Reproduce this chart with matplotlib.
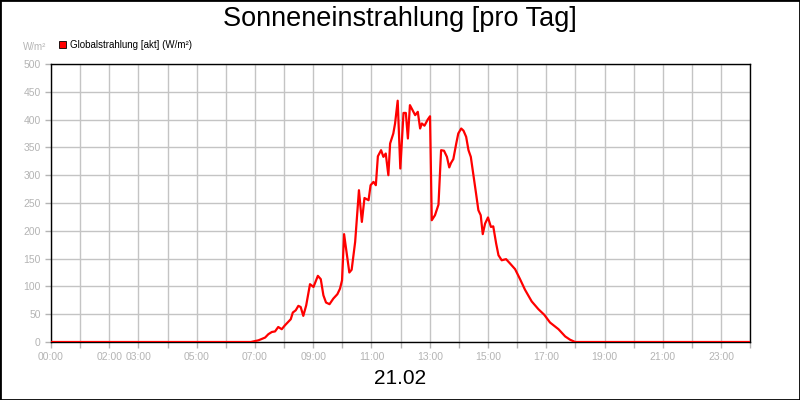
import matplotlib
matplotlib.use("Agg")
import matplotlib.pyplot as plt
from matplotlib.patches import Rectangle

plt.rcParams['font.family'] = ['Liberation Sans', 'DejaVu Sans']

# Tageszeit in Stunden und Globalstrahlung in W/m²
hours = [0.0, 6.86, 7.12, 7.35, 7.46, 7.58, 7.69, 7.80, 7.92, 8.03, 8.23, 8.30,
         8.40, 8.49, 8.57, 8.66, 8.76, 8.89, 9.01, 9.16, 9.26, 9.35, 9.44, 9.56,
         9.69, 9.83, 9.92, 9.99, 10.06, 10.24, 10.32, 10.44, 10.57, 10.67, 10.76,
         10.90, 10.97, 11.07, 11.15, 11.22, 11.33, 11.41, 11.49, 11.58, 11.64,
         11.75, 11.81, 11.90, 11.99, 12.10, 12.18, 12.25, 12.32, 12.41, 12.50,
         12.59, 12.67, 12.73, 12.82, 12.93, 13.01, 13.07, 13.18, 13.30, 13.39,
         13.49, 13.59, 13.67, 13.73, 13.81, 13.91, 13.98, 14.08, 14.16, 14.25,
         14.33, 14.41, 14.50, 14.59, 14.67, 14.75, 14.82, 14.90, 15.00, 15.10,
         15.18, 15.28, 15.36, 15.47, 15.62, 15.76, 15.93, 16.10, 16.27, 16.50,
         16.73, 16.93, 17.13, 17.42, 17.65, 17.82, 17.99, 24.0]
radiation = [0, 0, 3, 8, 14, 18, 19, 27, 23, 30, 41, 53,
             57, 65, 63, 47, 66, 104, 99, 119, 113, 84, 71, 68,
             78, 86, 96, 111, 194, 125, 130, 180, 273, 216, 259,
             255, 282, 288, 282, 334, 345, 333, 339, 300, 357,
             375, 393, 434, 312, 412, 412, 366, 426, 417, 408,
             414, 384, 393, 389, 400, 406, 219, 228, 247, 345,
             344, 333, 314, 322, 329, 357, 375, 384, 380, 369,
             345, 333, 300, 267, 237, 228, 194, 213, 224, 207,
             208, 177, 156, 147, 149, 141, 131, 113, 94, 73,
             59, 49, 35, 23, 10, 4, 0, 0]

x_labels = [0, 2, 3, 5, 7, 9, 11, 13, 15, 17, 19, 21, 23]
y_ticks = list(range(0, 501, 50))

grey = '#b4b4b4'

fig = plt.figure(figsize=(8, 4), dpi=100)
ax = fig.add_axes([0.06375, 0.145, 0.874, 0.695])

ax.plot(hours, radiation, color='#ff0000', lw=1.6, zorder=3)

ax.set_xlim(0, 24)
ax.set_ylim(0, 500)
ax.set_xticks(range(0, 25))
ax.set_xticklabels(['%02d:00' % h if h in x_labels else '' for h in range(0, 25)])
ax.set_yticks(y_ticks)
ax.set_yticklabels([str(v) for v in y_ticks])
ax.grid(True, color='#c4c4c4', lw=1)
ax.tick_params(axis='both', colors=grey, labelsize=7.5, length=4, width=1)
ax.tick_params(axis='x', pad=3)
for sp in ax.spines.values():
    sp.set_color('black')
    sp.set_linewidth(1)

fig.text(0.5, 0.952, 'Sonneneinstrahlung [pro Tag]', ha='center', va='center',
         fontsize=19.5)
fig.text(0.5, 0.055, '21.02', ha='center', va='center', fontsize=15)
fig.text(0.058, 0.882, 'W/m²', ha='right', va='center', fontsize=7, color=grey)

# Legende
fig.patches.append(Rectangle((59 / 800, 1 - 48 / 400), 7 / 800, 7 / 400,
                             transform=fig.transFigure, facecolor='#ff0000',
                             edgecolor='black', lw=0.6))
fig.text(70 / 800, 1 - 44.5 / 400, 'Globalstrahlung [akt] (W/m²)', ha='left',
         va='center', fontsize=7, color='black')

# Rahmen
fig.patches.append(Rectangle((0, 0), 1, 1, transform=fig.transFigure,
                             fill=False, edgecolor='black', lw=2))

fig.savefig('out.png', dpi=100)
